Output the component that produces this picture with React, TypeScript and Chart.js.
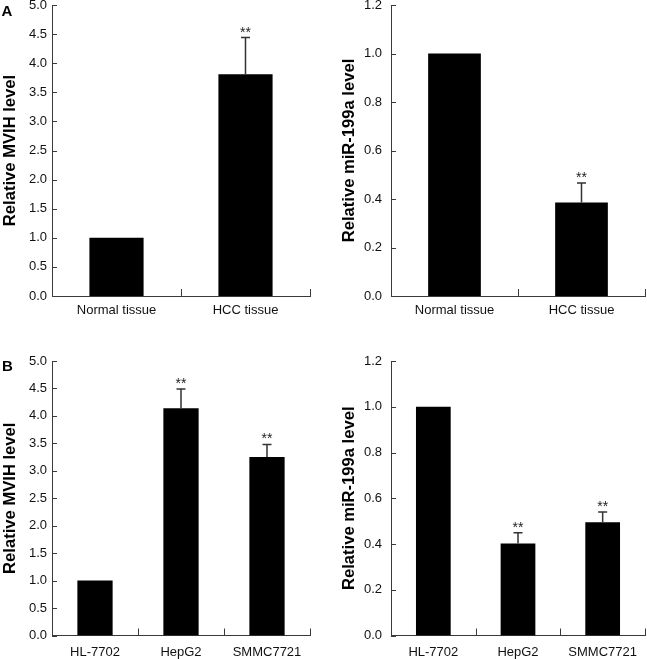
import React, { useEffect, useRef } from "react";
import { Chart, registerables } from "chart.js";

Chart.register(...registerables);

// ---- data ----
const tissueCategories = ["Normal tissue", "HCC tissue"];
const cellCategories = ["HL-7702", "HepG2", "SMMC7721"];

const tissueMVIH = [1.0, 3.81];
const tissueMVIHErr = [0, 0.63];
const tissueMiR = [1.0, 0.386];
const tissueMiRErr = [0, 0.08];

const cellMVIH = [1.0, 4.14, 3.25];
const cellMVIHErr = [0, 0.35, 0.23];
const cellMiR = [1.0, 0.402, 0.495];
const cellMiRErr = [0, 0.047, 0.045];

const tissueSig = ["", "**"];
const cellSig = ["", "**", "**"];

const mvihAxis = { max: 5.0, step: 0.5, title: "Relative MVIH level" };
const mirAxis = { max: 1.2, step: 0.2, title: "Relative miR-199a level" };

const FONT = "'Liberation Sans', Arial, Helvetica, sans-serif";

type Panel = {
  left: number;
  top: number;
  width: number;
  height: number;
  padLeft: number;
  padTop: number;
  padRight: number;
  axisWidth: number;
  axisHeight: number;
  yLabelPad: number;
  xLabelPad: number;
  barPct: number;
  categories: string[];
  values: number[];
  errors: number[];
  sig: string[];
  axis: { max: number; step: number; title: string };
  letter?: { text: string; x: number; y: number };
};

const panels: Panel[] = [
  {
    left: 0, top: 0, width: 320, height: 330,
    padLeft: 0, padTop: 5, padRight: 10,
    axisWidth: 52, axisHeight: 34, yLabelPad: 5, xLabelPad: 6.2, barPct: 0.42,
    categories: tissueCategories, values: tissueMVIH, errors: tissueMVIHErr, sig: tissueSig,
    axis: mvihAxis, letter: { text: "A", x: 1.5, y: 15.5 },
  },
  {
    left: 320, top: 0, width: 327, height: 330,
    padLeft: 19.5, padTop: 5, padRight: 2,
    axisWidth: 51.5, axisHeight: 34, yLabelPad: 9, xLabelPad: 6.2, barPct: 0.415,
    categories: tissueCategories, values: tissueMiR, errors: tissueMiRErr, sig: tissueSig,
    axis: mirAxis,
  },
  {
    left: 0, top: 330, width: 320, height: 329,
    padLeft: 0, padTop: 31, padRight: 10,
    axisWidth: 52, axisHeight: 23.5, yLabelPad: 5, xLabelPad: 8.7, barPct: 0.41,
    categories: cellCategories, values: cellMVIH, errors: cellMVIHErr, sig: cellSig,
    axis: mvihAxis, letter: { text: "B", x: 2, y: 40.5 },
  },
  {
    left: 320, top: 330, width: 327, height: 329,
    padLeft: 19.5, padTop: 31, padRight: 2,
    axisWidth: 51.5, axisHeight: 23.5, yLabelPad: 9, xLabelPad: 8.7, barPct: 0.41,
    categories: cellCategories, values: cellMiR, errors: cellMiRErr, sig: cellSig,
    axis: mirAxis,
  },
];

function BarPanel({ p }: { p: Panel }) {
  const ref = useRef<HTMLCanvasElement | null>(null);

  useEffect(() => {
    if (!ref.current) return;
    const axisColor = "#3a3a3a";

    const decor = {
      id: "decor",
      afterDatasetsDraw(chart: any) {
        const ctx = chart.ctx;
        const x = chart.scales.x;
        const y = chart.scales.y;
        const meta = chart.getDatasetMeta(0);
        ctx.save();
        // error bars
        ctx.strokeStyle = "#333";
        ctx.lineWidth = 1.5;
        p.values.forEach((v, i) => {
          const e = p.errors[i];
          if (!e) return;
          const cx = meta.data[i].x;
          const yTop = y.getPixelForValue(v + e);
          const yBar = y.getPixelForValue(v);
          ctx.beginPath();
          ctx.moveTo(cx, yBar);
          ctx.lineTo(cx, yTop);
          ctx.moveTo(cx - 4.5, yTop);
          ctx.lineTo(cx + 4.5, yTop);
          ctx.stroke();
          if (p.sig[i]) {
            ctx.fillStyle = "#222";
            ctx.font = `14px ${FONT}`;
            ctx.textAlign = "center";
            ctx.textBaseline = "alphabetic";
            ctx.fillText(p.sig[i], cx, yTop - 1);
          }
        });
        // inward ticks
        ctx.strokeStyle = axisColor;
        ctx.lineWidth = 1;
        y.ticks.forEach((t: any) => {
          const py = Math.round(y.getPixelForValue(t.value)) + 0.5;
          ctx.beginPath();
          ctx.moveTo(chart.chartArea.left, py);
          ctx.lineTo(chart.chartArea.left + 5, py);
          ctx.stroke();
        });
        for (let i = 0; i < p.categories.length; i++) {
          const px = Math.round(x.getPixelForValue(i + 0.5)) + 0.5;
          ctx.beginPath();
          ctx.moveTo(px, chart.chartArea.bottom);
          ctx.lineTo(px, chart.chartArea.bottom - 7);
          ctx.stroke();
        }
        if (p.letter) {
          ctx.fillStyle = "#000";
          ctx.font = `bold 15px ${FONT}`;
          ctx.textAlign = "left";
          ctx.textBaseline = "alphabetic";
          ctx.fillText(p.letter.text, p.letter.x, p.letter.y);
        }
        ctx.restore();
      },
    };

    const chart = new Chart(ref.current, {
      type: "bar",
      data: {
        labels: p.categories,
        datasets: [
          {
            data: p.values,
            backgroundColor: "#000",
            borderColor: "#111",
            borderWidth: 0,
            barPercentage: p.barPct,
            categoryPercentage: 1,
          },
        ],
      },
      options: {
        animation: false,
        responsive: false,
        devicePixelRatio: 1,
        events: [],
        layout: { padding: { left: p.padLeft, top: p.padTop, right: p.padRight, bottom: 0 } },
        plugins: { legend: { display: false }, tooltip: { enabled: false } },
        scales: {
          x: {
            type: "category",
            offset: true,
            grid: { display: false, drawTicks: false },
            border: { display: true, color: axisColor, width: 1 },
            ticks: {
              color: "#111",
              font: { family: FONT, size: 13 },
              padding: p.xLabelPad,
              maxRotation: 0,
              autoSkip: false,
            },
            afterFit(s: any) {
              s.height = p.axisHeight;
              s.paddingLeft = 0;
              s.paddingRight = 0;
            },
          },
          y: {
            min: 0,
            max: p.axis.max,
            grid: { display: false, drawTicks: false },
            border: { display: true, color: axisColor, width: 1 },
            ticks: {
              stepSize: p.axis.step,
              color: "#111",
              font: { family: FONT, size: 13 },
              padding: p.yLabelPad,
              callback: (v: any) => Number(v).toFixed(1),
            },
            title: {
              display: true,
              text: p.axis.title,
              color: "#000",
              font: { family: FONT, size: 16.6, weight: "bold" },
              padding: 0,
            },
            afterFit(s: any) {
              s.width = p.axisWidth;
              s.paddingTop = 0;
              s.paddingBottom = 0;
            },
          },
        },
      },
      plugins: [decor],
    } as any);

    return () => chart.destroy();
  }, [p]);

  return (
    <canvas
      ref={ref}
      width={p.width}
      height={p.height}
      style={{
        position: "absolute",
        left: p.left,
        top: p.top,
        width: p.width,
        height: p.height,
        display: "block",
      }}
    />
  );
}

export default function App() {
  return (
    <div
      style={{
        position: "absolute",
        left: 0,
        top: 0,
        width: 647,
        height: 659,
        background: "#fff",
        overflow: "hidden",
      }}
    >
      {panels.map((p, i) => (
        <BarPanel key={i} p={p} />
      ))}
    </div>
  );
}
